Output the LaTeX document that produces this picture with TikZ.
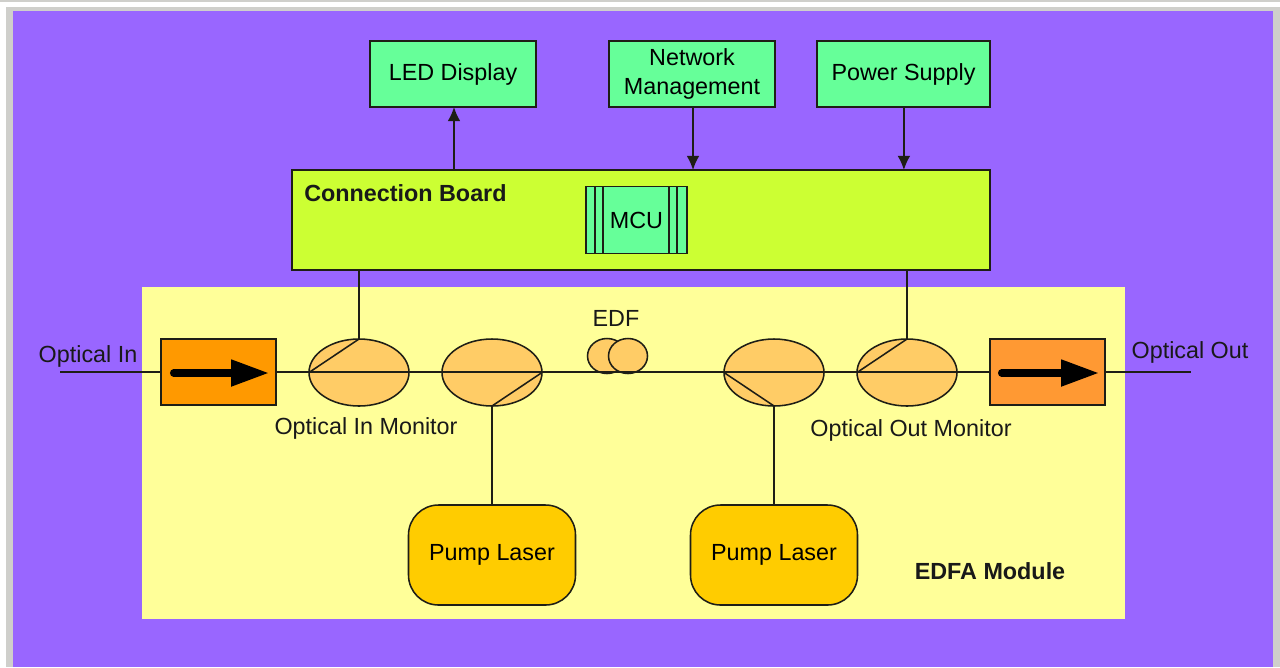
\documentclass[tikz,border=0pt]{standalone}
\usepackage{xcolor}
\usepackage{fontspec}
\setmainfont{Liberation Sans}
\usetikzlibrary{arrows.meta,calc,positioning,shapes.geometric}
\definecolor{bgpurple}{HTML}{9966FF}
\definecolor{edgegray}{HTML}{CFCFCB}
\definecolor{modyellow}{HTML}{FFFF99}
\definecolor{boxgreen}{HTML}{66FF99}
\definecolor{boardlime}{HTML}{CCFF33}
\definecolor{isoorange}{HTML}{FF9900}
\definecolor{isoorangeb}{HTML}{FF9933}
\definecolor{tapfill}{HTML}{FFCC66}
\definecolor{pumpfill}{HTML}{FFCC00}
\definecolor{linedark}{HTML}{1E1E16}
\tikzset{
    wh/.style 2 args={minimum width=#1*0.025cm,minimum height=#2*0.025cm},
    box/.style={draw=linedark,line width=1.1pt,inner sep=0pt,outer sep=0pt,align=center,font=\fontsize{16.6}{20.6}\selectfont},
    tap/.style={box,ellipse,fill=tapfill,wh={100}{67}},
    coil/.style={box,ellipse,fill=tapfill,wh={39}{35}},
    pump/.style={box,fill=pumpfill,rounded corners=0.75cm,wh={167}{100}},
    lbl/.style={inner sep=0pt,font=\fontsize{16.6}{20.6}\selectfont,text=black!90},
    wire/.style={draw=linedark,line width=1.1pt},
    sig/.style={wire,-{Latex[length=10pt,width=9pt]}},
    isoarrow/.style={line width=5pt,line cap=round,-{Triangle[length=27pt,width=18pt]}}
}
\begin{document}
\begin{tikzpicture}[x=0.025cm,y=-0.025cm]
    \useasboundingbox (0,0) rectangle (1280,667);
    \fill[white] (0,0) rectangle (1280,667);
    \fill[edgegray] (0,0) rectangle (1280,2);
    \fill[edgegray] (6,7) rectangle (1280,667);
    \fill[bgpurple] (13,11) rectangle (1273,667);
    % module and the blocks above it
    \node[wh={983}{332},fill=modyellow,inner sep=0pt] (module) at (633.5,453) {};
    \node[box,fill=boardlime,wh={698}{100}] (board) at (641,220) {};
    \node[box,fill=boxgreen,wh={166}{66}] (led) at (453,74) {LED Display};
    \node[box,fill=boxgreen,wh={166}{66}] (net) at (692,74) {Network\\Management};
    \node[box,fill=boxgreen,wh={173}{66}] (power) at (903.5,74) {Power Supply};
    \node[box,fill=boxgreen,wh={101}{67}] (mcu) at (636.5,220) {MCU};
    \foreach \i in {595,603,669,677}
        \draw[wire] (\i,0 |- mcu.north) -- (\i,0 |- mcu.south);
    \node[lbl,font=\fontsize{16.6}{20.6}\bfseries\selectfont,anchor=west] (boardname) at (304,193) {Connection Board};
    % optical path
    \node[box,fill=isoorange,wh={115}{66}] (isoin) at (218.5,372) {};
    \node[box,fill=isoorangeb,wh={115}{66}] (isoout) at (1047.5,372) {};
    \node[tap] (tapa) at (359,372.5) {};
    \node[tap] (tapb) at (492,372.5) {};
    \node[tap] (tapc) at (774,372.5) {};
    \node[tap] (tapd) at (907,372.5) {};
    \node[coil] (coila) at (607,356) {};
    \node[coil] (coilb) at (628,356) {};
    \node[box,pump,anchor=north] (pumpa) at (492,505) {Pump Laser};
    \node[box,pump,anchor=north] (pumpb) at (774,505) {Pump Laser};
    \coordinate (optin) at (60,372);
    \coordinate (optout) at (1191,372);
    \draw[wire] (optin) -- (isoin.west);
    \draw[wire] (isoin.east) -- (isoout.west);
    \draw[wire] (isoout.east) -- (optout);
    % taps
    \draw[wire] (tapa.west) -- (tapa.north) -- (board.south -| tapa.north);
    \draw[wire] (tapb.east) -- (tapb.south) -- (pumpa.north);
    \draw[wire] (tapc.west) -- (tapc.south) -- (pumpb.north);
    \draw[wire] (tapd.west) -- (tapd.north) -- (board.south -| tapd.north);
    % board links
    \draw[sig] (board.north -| led.south) ++(1,0) coordinate (ledfoot) -- (ledfoot |- led.south);
    \draw[sig] (net.south) ++(1,0) coordinate (netfoot) -- (netfoot |- board.north);
    \draw[sig] (power.south) ++(0.4,0) coordinate (powerfoot) -- (powerfoot |- board.north);
    % isolator arrows
    \coordinate (isoinA) at (173.5,373);
    \coordinate (isoinB) at (269,373);
    \coordinate (isooutA) at (1001.5,373);
    \coordinate (isooutB) at (1099,373);
    \draw[isoarrow] (isoinA) -- (isoinB);
    \draw[isoarrow] (isooutA) -- (isooutB);
    % labels
    \node[lbl] (inlabel) at (88,356) {Optical In};
    \node[lbl] (outlabel) at (1190,352) {Optical Out};
    \node[lbl] (inmon) at (366,428) {Optical In Monitor};
    \node[lbl] (outmon) at (911,430) {Optical Out Monitor};
    \node[lbl] (edf) at (616,318) {EDF};
    \node[lbl,font=\fontsize{16.6}{20.6}\bfseries\selectfont] (modname) at (990,571) {EDFA Module};
\end{tikzpicture}
\end{document}
